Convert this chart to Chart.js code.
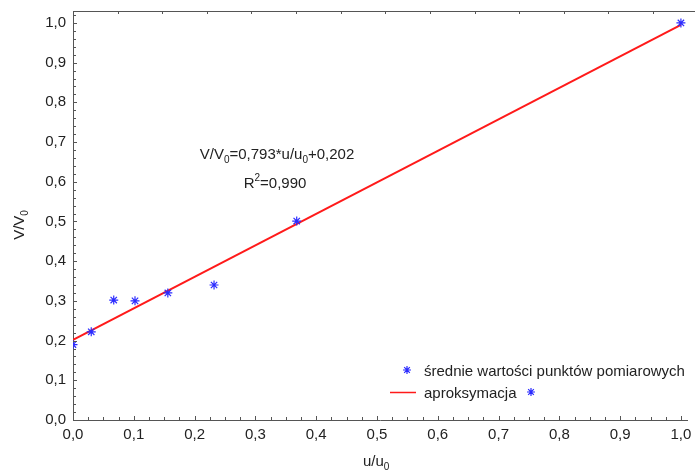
<!DOCTYPE html>
<html>
<head>
<meta charset="utf-8">
<script src="https://cdn.jsdelivr.net/npm/chart.js@4/dist/chart.umd.min.js"></script>
<style>
  html, body { margin: 0; padding: 0; background: #fff; }
  #wrap { width: 695px; height: 471px; position: relative; }
</style>
</head>
<body>
<div id="wrap"><canvas id="chart"></canvas></div>
<script>
// measured points (mean values)
const pointsX = [0.0, 0.03, 0.067, 0.102, 0.156, 0.232, 0.368, 1.0];
const pointsY = [0.19, 0.222, 0.302, 0.30, 0.32, 0.34, 0.501, 1.0];

// fitted line V/V0 = 0,793*u/u0 + 0,202
const fitX = [0.0, 1.0];
const fitY = [0.202, 0.995];

const xTicks = [0, 0.1, 0.2, 0.3, 0.4, 0.5, 0.6, 0.7, 0.8, 0.9, 1.0];
const yTicks = [0, 0.1, 0.2, 0.3, 0.4, 0.5, 0.6, 0.7, 0.8, 0.9, 1.0];

const FAMILY = '"Liberation Sans", Arial, sans-serif';
const FONT = '15px ' + FAMILY;
const SUBFONT = '10px ' + FAMILY;
const TEXT = '#222';
const AXIS = '#555';
const BLUE = '#2b2bff';
const RED = '#ff1a1a';

const fmt = v => v.toFixed(1).replace('.', ',');

// text made of parts, some of them sub/superscript
function richWidth(ctx, parts) {
    let w = 0;
    for (const p of parts) {
        ctx.font = p.s ? SUBFONT : FONT;
        w += ctx.measureText(p.t).width;
    }
    return w;
}
function drawRich(ctx, parts, x, y) {
    let cx = x;
    for (const p of parts) {
        ctx.font = p.s ? SUBFONT : FONT;
        const dy = p.s === 'sub' ? 4 : p.s === 'sup' ? -7 : 0;
        ctx.fillText(p.t, cx, y + dy);
        cx += ctx.measureText(p.t).width;
    }
}

function starMark(ctx, x, y, r) {
    ctx.beginPath();
    for (let i = 0; i < 4; i++) {
        const a = i * Math.PI / 4;
        ctx.moveTo(x - r * Math.cos(a), y - r * Math.sin(a));
        ctx.lineTo(x + r * Math.cos(a), y + r * Math.sin(a));
    }
    ctx.stroke();
}

const decorPlugin = {
    id: 'decor',
    afterDraw(chart) {
        const { ctx, chartArea: a, scales: { x, y } } = chart;
        ctx.save();
        ctx.strokeStyle = AXIS;
        ctx.lineWidth = 1;

        // top border with its own ticks
        ctx.beginPath();
        ctx.moveTo(a.left, a.top + 0.5);
        ctx.lineTo(chart.width, a.top + 0.5);
        for (let v = 0.0734; x.getPixelForValue(v) < chart.width; v += 0.0734) {
            const px = Math.round(x.getPixelForValue(v)) + 0.5;
            ctx.moveTo(px, a.top);
            ctx.lineTo(px, a.top + 3);
        }
        ctx.stroke();

        // inward ticks on x axis (minor every 0,025)
        ctx.beginPath();
        for (let i = 0; i <= 40; i++) {
            const px = Math.round(x.getPixelForValue(i * 0.025)) + 0.5;
            const len = i % 4 === 0 ? 4 : 3;
            ctx.moveTo(px, a.bottom);
            ctx.lineTo(px, a.bottom - len);
        }
        // inward ticks on y axis (minor every 0,02)
        for (let i = 0; i <= 51; i++) {
            const py = Math.round(y.getPixelForValue(i * 0.02)) + 0.5;
            const len = i % 5 === 0 ? 4 : 3;
            ctx.moveTo(a.left, py);
            ctx.lineTo(a.left + len, py);
        }
        ctx.stroke();

        ctx.fillStyle = TEXT;
        ctx.textBaseline = 'alphabetic';

        // x title
        drawRich(ctx, [{ t: 'u/u' }, { t: '0', s: 'sub' }], 363, 466);

        // y title, rotated
        ctx.save();
        const yt = [{ t: 'V/V' }, { t: '0', s: 'sub' }];
        ctx.translate(24, 225);
        ctx.rotate(-Math.PI / 2);
        drawRich(ctx, yt, -richWidth(ctx, yt) / 2, 0);
        ctx.restore();

        // equation
        const eq = [{ t: 'V/V' }, { t: '0', s: 'sub' }, { t: '=0,793*u/u' }, { t: '0', s: 'sub' }, { t: '+0,202' }];
        drawRich(ctx, eq, 277 - richWidth(ctx, eq) / 2, 159);
        const r2 = [{ t: 'R' }, { t: '2', s: 'sup' }, { t: '=0,990' }];
        drawRich(ctx, r2, 275 - richWidth(ctx, r2) / 2, 188);

        // legend
        ctx.strokeStyle = BLUE;
        ctx.lineWidth = 1.2;
        starMark(ctx, 407, 370, 4);
        starMark(ctx, 531, 392, 4);
        ctx.strokeStyle = RED;
        ctx.lineWidth = 1.5;
        ctx.beginPath();
        ctx.moveTo(390, 392.5);
        ctx.lineTo(416, 392.5);
        ctx.stroke();
        ctx.font = FONT;
        ctx.fillText('średnie wartości punktów pomiarowych', 424, 376);
        ctx.fillText('aproksymacja', 424, 398);

        ctx.restore();
    }
};

new Chart(document.getElementById('chart'), {
    type: 'scatter',
    data: {
        datasets: [
            {
                label: 'aproksymacja',
                type: 'line',
                data: fitX.map((v, i) => ({ x: v, y: fitY[i] })),
                borderColor: RED,
                borderWidth: 2,
                pointRadius: 0,
                order: 2
            },
            {
                label: 'średnie wartości punktów pomiarowych',
                data: pointsX.map((v, i) => ({ x: v, y: pointsY[i] })),
                pointStyle: 'star',
                pointRadius: 4.5,
                borderColor: BLUE,
                backgroundColor: BLUE,
                borderWidth: 1.2,
                order: 1
            }
        ]
    },
    options: {
        responsive: true,
        maintainAspectRatio: false,
        animation: false,
        layout: { padding: { left: 0, top: 11, right: 8, bottom: 0 } },
        plugins: {
            legend: { display: false },
            tooltip: { enabled: false }
        },
        scales: {
            x: {
                type: 'linear',
                min: 0,
                max: 1.01,
                afterFit: s => { s.height = 51; s.paddingLeft = 0; s.paddingRight = 0; },
                afterBuildTicks: s => { s.ticks = xTicks.map(v => ({ value: v })); },
                grid: { drawOnChartArea: false, drawTicks: false },
                border: { display: true, color: AXIS, width: 1 },
                ticks: {
                    padding: 6,
                    color: TEXT,
                    font: { family: FAMILY, size: 15 },
                    maxRotation: 0,
                    callback: v => fmt(v)
                }
            },
            y: {
                type: 'linear',
                min: 0,
                max: 1.03,
                afterFit: s => { s.width = 73; s.paddingTop = 0; s.paddingBottom = 0; },
                afterBuildTicks: s => { s.ticks = yTicks.map(v => ({ value: v })); },
                grid: { drawOnChartArea: false, drawTicks: false },
                border: { display: true, color: AXIS, width: 1 },
                ticks: {
                    padding: 7,
                    color: TEXT,
                    font: { family: FAMILY, size: 15 },
                    callback: v => fmt(v)
                }
            }
        }
    },
    plugins: [decorPlugin]
});
</script>
</body>
</html>
